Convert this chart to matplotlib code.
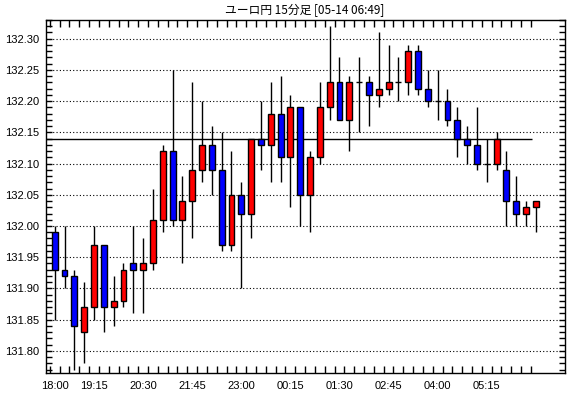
import numpy as np
import matplotlib
matplotlib.use("Agg")
import matplotlib.pyplot as plt

# 15-minute EUR/JPY candles (open, high, low, close)
opens = [131.99, 131.93, 131.92, 131.83, 131.87, 131.97, 131.87, 131.88, 131.94, 131.93,
         131.94, 132.01, 132.12, 132.01, 132.04, 132.09, 132.13, 132.09, 131.97, 132.05,
         132.02, 132.14, 132.13, 132.18, 132.11, 132.19, 132.05, 132.11, 132.19, 132.23,
         132.17, 132.23, 132.23, 132.21, 132.22, 132.23, 132.23, 132.28, 132.22, 132.20,
         132.20, 132.17, 132.14, 132.13, 132.10, 132.10, 132.09, 132.04, 132.02, 132.03]
highs = [132.00, 132.00, 131.93, 131.91, 132.00, 131.97, 131.92, 131.94, 132.00, 131.98,
         132.06, 132.13, 132.25, 132.08, 132.23, 132.20, 132.16, 132.15, 132.12, 132.07,
         132.14, 132.20, 132.23, 132.24, 132.21, 132.19, 132.12, 132.23, 132.32, 132.27,
         132.24, 132.27, 132.24, 132.31, 132.29, 132.27, 132.29, 132.29, 132.25, 132.25,
         132.22, 132.19, 132.16, 132.19, 132.14, 132.15, 132.12, 132.08, 132.04, 132.04]
lows = [131.85, 131.90, 131.77, 131.78, 131.85, 131.83, 131.84, 131.87, 131.86, 131.86,
        131.93, 131.99, 132.00, 131.94, 131.98, 132.07, 132.05, 131.96, 131.96, 131.90,
        131.98, 132.09, 132.07, 132.07, 132.03, 132.00, 131.99, 132.10, 132.17, 132.17,
        132.12, 132.15, 132.16, 132.19, 132.21, 132.20, 132.21, 132.21, 132.19, 132.17,
        132.16, 132.11, 132.10, 132.09, 132.07, 132.09, 132.00, 132.00, 132.00, 131.99]
closes = [131.93, 131.92, 131.84, 131.87, 131.97, 131.87, 131.88, 131.93, 131.93, 131.94,
          132.01, 132.12, 132.01, 132.04, 132.09, 132.13, 132.09, 131.97, 132.05, 132.02,
          132.14, 132.13, 132.18, 132.11, 132.19, 132.05, 132.11, 132.19, 132.23, 132.17,
          132.23, 132.23, 132.21, 132.22, 132.23, 132.23, 132.28, 132.22, 132.20, 132.20,
          132.17, 132.14, 132.13, 132.10, 132.10, 132.14, 132.04, 132.02, 132.03, 132.04]

time_labels = ["18:00", "19:15", "20:30", "21:45", "23:00",
               "00:15", "01:30", "02:45", "04:00", "05:15"]
label_idx = [0, 4, 9, 14, 19, 24, 29, 34, 39, 44]
ref_level = 132.14

o = np.array(opens)
h = np.array(highs)
l = np.array(lows)
c = np.array(closes)
x = np.arange(len(o))

fig = plt.figure(figsize=(5.70, 3.98), dpi=100)
ax = fig.add_axes([45.7 / 570, 25 / 398, (565 - 45.7) / 570, (373 - 20) / 398])

# grid
for yv in np.arange(131.80, 132.301, 0.05):
    ax.axhline(yv, color="black", lw=0.8, ls=(0, (1, 2)), zorder=0)

ax.hlines(ref_level, -0.92, 48.6, color="black", lw=1.0, zorder=1)

ax.vlines(x, l, h, color="black", lw=1.0, zorder=2)
colors = np.where(c >= o, "#ff0000", "#0000ff")
bottoms = np.minimum(o, c)
heights = np.abs(c - o)
ax.bar(x, heights, bottom=bottoms, width=0.6, color=colors,
       edgecolor="black", linewidth=1.0, zorder=3)

ax.set_xlim(-0.92, 51.97)
ax.set_ylim(131.7645, 132.329)

ax.set_xticks(label_idx)
ax.set_xticklabels(time_labels)
ax.set_xticks(np.arange(-0.5, 49, 1.0), minor=True)
ax.tick_params(axis="x", which="major", length=0, pad=6)
ax.tick_params(axis="x", which="minor", direction="in", length=5,
               top=True, bottom=True, width=1)

ax.set_yticks(np.arange(131.80, 132.301, 0.05))
ax.set_yticklabels([f"{v:.2f}" for v in np.arange(131.80, 132.301, 0.05)])
ax.set_yticks(np.arange(131.77, 132.33, 0.01), minor=True)
ax.tick_params(axis="y", which="both", direction="in", length=4,
               left=True, right=True, width=1, pad=5)

for lab in ax.get_xticklabels() + ax.get_yticklabels():
    lab.set_fontfamily("Liberation Sans")
    lab.set_fontsize(8)

for sp in ax.spines.values():
    sp.set_linewidth(1.0)

fig.text(305 / 570, 1 - 10 / 398, "ユーロ円 15分足 [05-14 06:49]",
         ha="center", va="center", fontsize=8.5,
         family=["Noto Sans CJK JP", "DejaVu Sans"])

fig.savefig("out.png", dpi=100)
